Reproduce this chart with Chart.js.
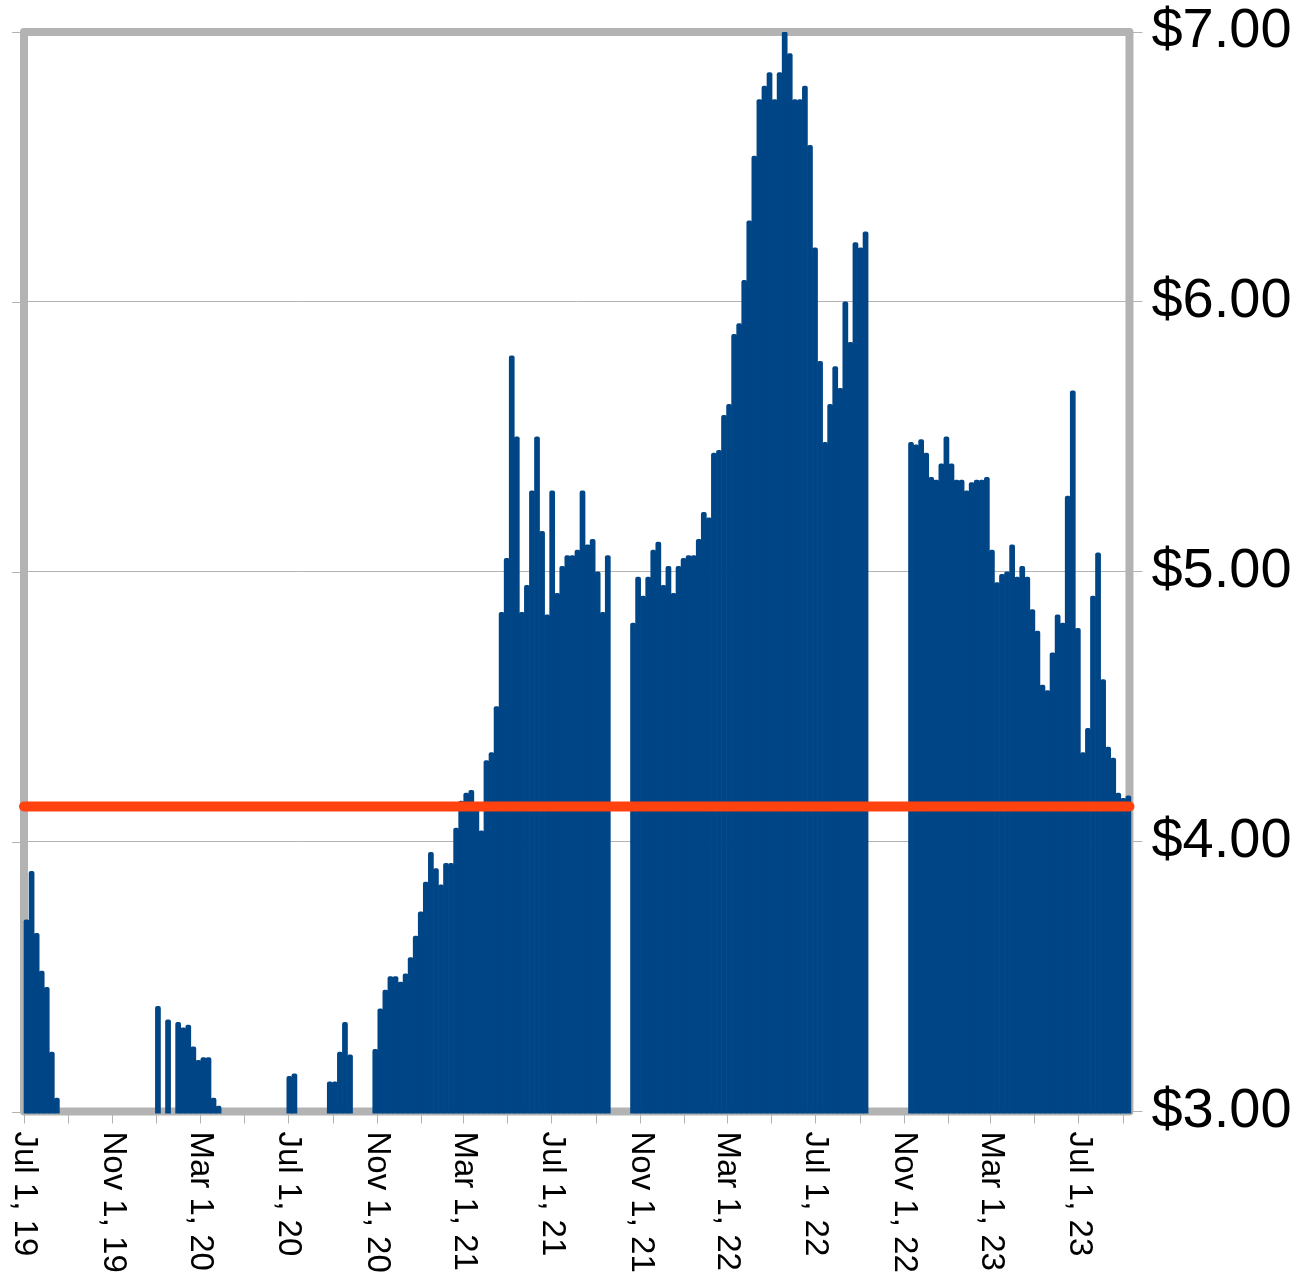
<!DOCTYPE html>
<html>
<head>
<meta charset="utf-8">
<script src="https://cdn.jsdelivr.net/npm/chart.js@4.4.1/dist/chart.umd.min.js"></script>
<style>
  html, body { margin: 0; padding: 0; background: #fff; }
  #wrap { width: 1309px; height: 1280px; }
</style>
</head>
<body>
<div id="wrap"><canvas id="grafica"></canvas></div>
<script>
// ------------------------------------------------------------
//  Datos: precio semanal (null = semana sin dato)
// ------------------------------------------------------------
const FIRST_WEEK = '2019-07-01';
const PRICES = [
  3.71, 3.89, 3.66, 3.52, 3.46, 3.22, 3.05, null, null, null,
  null, null, null, null, null, null, null, null, null, null,
  null, null, null, null, null, null, 3.39, null, 3.34, null,
  3.33, 3.31, 3.32, 3.24, 3.19, 3.20, 3.20, 3.05, 3.02, null,
  null, null, null, null, null, null, null, null, null, null,
  null, null, 3.13, 3.14, null, null, null, null, null, null,
  3.11, 3.11, 3.22, 3.33, 3.21, null, null, null, null, 3.23,
  3.38, 3.45, 3.50, 3.50, 3.48, 3.51, 3.57, 3.65, 3.74, 3.85,
  3.96, 3.90, 3.84, 3.92, 3.92, 4.05, 4.15, 4.18, 4.19, 4.12,
  4.04, 4.30, 4.33, 4.50, 4.85, 5.05, 5.80, 5.50, 4.85, 4.95,
  5.30, 5.50, 5.15, 4.84, 5.30, 4.92, 5.02, 5.06, 5.06, 5.08,
  5.30, 5.10, 5.12, 5.00, 4.85, 5.06, null, null, null, null,
  4.81, 4.98, 4.91, 4.98, 5.08, 5.11, 4.95, 5.02, 4.92, 5.02,
  5.05, 5.06, 5.06, 5.12, 5.22, 5.20, 5.44, 5.45, 5.58, 5.62,
  5.88, 5.92, 6.08, 6.30, 6.54, 6.75, 6.80, 6.85, 6.75, 6.85,
  7.00, 6.92, 6.75, 6.75, 6.80, 6.58, 6.20, 5.78, 5.48, 5.62,
  5.76, 5.68, 6.00, 5.85, 6.22, 6.20, 6.26, null, null, null,
  null, null, null, null, null, 5.48, 5.47, 5.49, 5.44, 5.35,
  5.34, 5.40, 5.50, 5.40, 5.34, 5.34, 5.30, 5.33, 5.34, 5.34,
  5.35, 5.08, 4.96, 4.99, 5.00, 5.10, 4.98, 5.02, 4.98, 4.86,
  4.78, 4.58, 4.56, 4.70, 4.84, 4.81, 5.28, 5.67, 4.79, 4.33,
  4.42, 4.91, 5.07, 4.60, 4.35, 4.31, 4.18, 4.16, 4.17
];
const AVERAGE = 4.13;

const X_START = '2019-07-01';
const X_END   = '2023-09-09';
const TICK_DATES = [
  '2019-07-01', '2019-09-01', '2019-11-01', '2020-01-01', '2020-03-01', '2020-05-01',
  '2020-07-01', '2020-09-01', '2020-11-01', '2021-01-01', '2021-03-01', '2021-05-01',
  '2021-07-01', '2021-09-01', '2021-11-01', '2022-01-01', '2022-03-01', '2022-05-01',
  '2022-07-01', '2022-09-01', '2022-11-01', '2023-01-01', '2023-03-01', '2023-05-01',
  '2023-07-01', '2023-09-01'
];
const TICK_LABELS = [
  'Jul 1, 19', '', 'Nov 1, 19', '', 'Mar 1, 20', '',
  'Jul 1, 20', '', 'Nov 1, 20', '', 'Mar 1, 21', '',
  'Jul 1, 21', '', 'Nov 1, 21', '', 'Mar 1, 22', '',
  'Jul 1, 22', '', 'Nov 1, 22', '', 'Mar 1, 23', '',
  'Jul 1, 23', ''
];
const Y_MIN = 3;
const Y_MAX = 7;

// ------------------------------------------------------------
//  Estilo
// ------------------------------------------------------------
const AZUL   = '#004586';
const ROJO   = '#ff420e';
const GRIS   = '#b3b3b3';
const FUENTE = "'Liberation Sans', Arial, sans-serif";
const DAY    = 86400000;

function ms(s) { return Date.parse(s + 'T00:00:00Z'); }

// centro de cada semana
const weekX = PRICES.map((_, i) => ms(FIRST_WEEK) + (i * 7 + 3.5) * DAY);

// ------------------------------------------------------------
//  Marco gris y marcas cortas a la izquierda
// ------------------------------------------------------------
const marco = {
  id: 'marco',
  beforeDatasetsDraw(chart) {
    const { ctx, chartArea: a } = chart;
    const sy = chart.scales.y;
    ctx.save();
    ctx.strokeStyle = GRIS;
    ctx.lineWidth = 1;
    sy.ticks.forEach(t => {
      const y = Math.round(sy.getPixelForValue(t.value)) + 0.5;
      ctx.beginPath();
      ctx.moveTo(a.left - 12, y);
      ctx.lineTo(a.left, y);
      ctx.stroke();
    });
    ctx.lineWidth = 8;
    ctx.lineJoin = 'round';
    ctx.strokeRect(a.left, a.top, a.right - a.left, a.bottom - a.top);
    ctx.restore();
  }
};

// ------------------------------------------------------------
//  Etiquetas del eje X giradas 90° (lectura de arriba a abajo)
// ------------------------------------------------------------
const etiquetasX = {
  id: 'etiquetasX',
  afterDraw(chart) {
    const sx = chart.scales.x;
    const ctx = chart.ctx;
    ctx.save();
    ctx.font = '33px ' + FUENTE;
    ctx.fillStyle = '#000';
    ctx.textAlign = 'left';
    ctx.textBaseline = 'middle';
    TICK_DATES.forEach((d, i) => {
      if (!TICK_LABELS[i]) return;
      const x = sx.getPixelForValue(ms(d));
      ctx.save();
      ctx.translate(x, sx.bottom + 8);
      ctx.rotate(Math.PI / 2);
      ctx.fillText(TICK_LABELS[i], 0, 0);
      ctx.restore();
    });
    ctx.restore();
  }
};

new Chart(document.getElementById('grafica'), {
  type: 'bar',
  data: {
    datasets: [
      {
        type: 'line',
        data: [{ x: ms(X_START), y: AVERAGE }, { x: ms(X_END), y: AVERAGE }],
        borderColor: ROJO,
        borderWidth: 10,
        borderCapStyle: 'round',
        pointRadius: 0,
        clip: false,
        order: 0
      },
      {
        type: 'bar',
        data: weekX.map((x, i) => ({ x, y: PRICES[i] })),
        backgroundColor: AZUL,
        barPercentage: 1,
        categoryPercentage: 1,
        borderRadius: 2,
        clip: { left: 3, top: 0, right: 3, bottom: 2 },
        order: 1
      }
    ]
  },
  options: {
    responsive: true,
    maintainAspectRatio: false,
    animation: false,
    layout: { padding: { left: 24, top: 32, right: 8.4, bottom: 156.5 } },
    plugins: { legend: { display: false }, tooltip: { enabled: false } },
    scales: {
      x: {
        type: 'linear',
        offset: false,
        min: ms(X_START),
        max: ms(X_END),
        afterBuildTicks: s => { s.ticks = TICK_DATES.map(d => ({ value: ms(d) })); },
        ticks: { display: false },
        grid: { drawOnChartArea: false, tickLength: 12, color: GRIS, offset: false },
        border: { display: false }
      },
      y: {
        position: 'right',
        min: Y_MIN,
        max: Y_MAX,
        ticks: {
          stepSize: 1,
          padding: 9,
          color: '#000',
          font: { family: FUENTE, size: 56, lineHeight: 0.8 },
          callback: v => '$' + v.toFixed(2)
        },
        grid: { color: GRIS, tickLength: 13 },
        border: { display: false }
      }
    }
  },
  plugins: [marco, etiquetasX]
});
</script>
</body>
</html>
